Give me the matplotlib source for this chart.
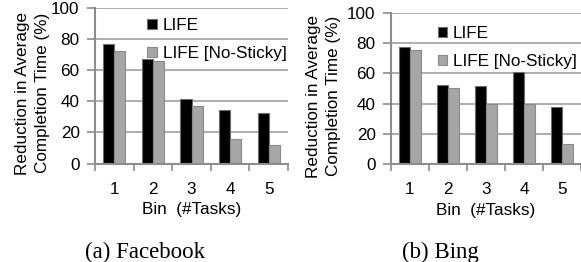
import matplotlib
matplotlib.use("Agg")
import matplotlib.pyplot as plt
import numpy as np

bins = ["1", "2", "3", "4", "5"]
fb_life = [76.3, 67.3, 41.3, 34.3, 32.2]
fb_nosticky = [71.8, 66.0, 37.0, 15.8, 11.6]
bing_life = [77.3, 52.0, 51.7, 61.0, 37.7]
bing_nosticky = [75.8, 50.6, 39.8, 39.8, 13.2]
series_labels = ["LIFE", "LIFE [No-Sticky]"]
captions = ["(a) Facebook", "(b) Bing"]
ylabel = "Reduction in Average\nCompletion Time (%)"
xlabel = "Bin  (#Tasks)"

plt.rcParams['font.family'] = ['Liberation Sans', 'DejaVu Sans']
FS = 12.3
W, H = 581, 262
fig = plt.figure(figsize=(W / 100, H / 100), dpi=100)

def px_axes(x0, y0, x1, y1):
    return fig.add_axes([x0 / W, 1 - y1 / H, (x1 - x0) / W, (y1 - y0) / H])

panels = [
    (px_axes(95, 7.5, 288, 163.5), fb_life, fb_nosticky, -0.233, 1.055, 1.01),
    (px_axes(391, 13, 581, 164), bing_life, bing_nosticky, -0.263, 1.041, 0.995),
]

GRID = "#a0a0a0"
SPINE = "#8c8c8c"
bw = 0.29
x = np.arange(1, len(bins) + 1)
for ax, life, ns, lx, legx, legy in panels:
    ax.set_xlim(0.5, len(bins) + 0.5)
    ax.set_ylim(0, 100)
    ax.set_yticks(range(0, 101, 20))
    ax.yaxis.grid(True, color=GRID, linewidth=1.2)
    ax.set_axisbelow(True)
    ax.bar(x - bw / 2, life, bw, color="black", edgecolor="#6e6e6e", linewidth=0.8,
           label=series_labels[0], zorder=2)
    ax.bar(x + bw / 2, ns, bw, color="#a6a6a6", edgecolor="#8a8a8a", linewidth=0.8,
           label=series_labels[1], zorder=2)
    for s in ["top", "right"]:
        ax.spines[s].set_visible(False)
    for s in ["left", "bottom"]:
        ax.spines[s].set_color(SPINE)
        ax.spines[s].set_linewidth(1.5)
    ax.set_xticks(x)
    ax.set_xticklabels(bins, fontsize=FS)
    ax.set_xticks(np.arange(0.5, len(bins) + 1), minor=True)
    ax.tick_params(axis="x", which="major", length=0, pad=13)
    ax.tick_params(axis="x", which="minor", length=5, width=1.2, color=SPINE, direction="out")
    ax.tick_params(axis="y", length=6, width=1.2, color=SPINE, labelsize=FS, pad=5)
    ax.set_xlabel(xlabel, fontsize=FS, labelpad=4)
    ax.set_ylabel(ylabel, fontsize=FS, linespacing=1.45)
    ax.yaxis.set_label_coords(lx, 0.45)
    ax.legend(loc="upper right", bbox_to_anchor=(legx, legy), frameon=False, fontsize=FS,
              handlelength=0.55, handleheight=0.55, handletextpad=0.35, labelspacing=0.78,
              borderaxespad=0.3)

fig.text(145 / W, 1 - 252 / H, captions[0], family="Liberation Serif", fontsize=16.5,
         ha="center", va="center")
fig.text(440 / W, 1 - 252 / H, captions[1], family="Liberation Serif", fontsize=16.5,
         ha="center", va="center")

fig.savefig("out.png", dpi=100)
